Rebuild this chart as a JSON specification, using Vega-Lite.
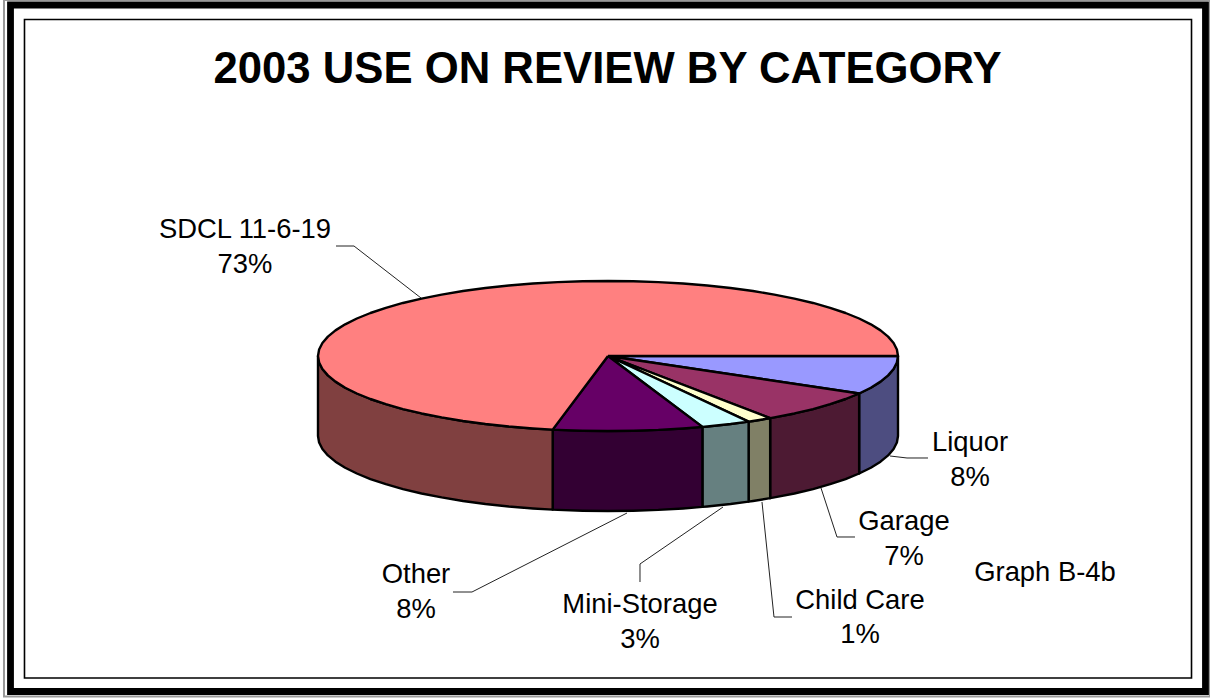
{
  "$schema": "https://vega.github.io/schema/vega-lite/v6.json",
  "width": 1210,
  "height": 698,
  "padding": 0,
  "autosize": {"type": "none"},
  "background": "white",
  "view": {"stroke": null},
  "title": {
    "text": "2003 USE ON REVIEW BY CATEGORY",
    "font": "Liberation Sans",
    "fontSize": 43.7,
    "fontWeight": "bold",
    "color": "black",
    "anchor": "middle",
    "frame": "group",
    "baseline": "alphabetic",
    "offset": 0,
    "dy": 128,
    "dx": 2.5
  },
  "datasets": {
    "sides": [
      {"part":"Liquor side","step":0,"x":100,"y":0},{"part":"Liquor side","step":1,"x":99.62,"y":-2.25},{"part":"Liquor side","step":2,"x":98.48,"y":-4.49},{"part":"Liquor side","step":3,"x":96.59,"y":-6.69},{"part":"Liquor side","step":4,"x":93.97,"y":-8.84},{"part":"Liquor side","step":5,"x":90.63,"y":-10.93},{"part":"Liquor side","step":6,"x":86.6,"y":-12.93},
      {"part":"Liquor side","step":7,"x":86.6,"y":-40.52},{"part":"Liquor side","step":8,"x":90.63,"y":-38.52},{"part":"Liquor side","step":9,"x":93.97,"y":-36.43},{"part":"Liquor side","step":10,"x":96.59,"y":-34.28},{"part":"Liquor side","step":11,"x":98.48,"y":-32.08},{"part":"Liquor side","step":12,"x":99.62,"y":-29.84},{"part":"Liquor side","step":13,"x":100,"y":-27.59},{"part":"Liquor side","step":14,"x":100,"y":0},

      {"part":"Garage side","step":0,"x":86.6,"y":-12.93},{"part":"Garage side","step":1,"x":81.92,"y":-14.83},{"part":"Garage side","step":2,"x":76.6,"y":-16.62},{"part":"Garage side","step":3,"x":70.71,"y":-18.29},{"part":"Garage side","step":4,"x":64.28,"y":-19.81},{"part":"Garage side","step":5,"x":57.36,"y":-21.18},{"part":"Garage side","step":6,"x":55.92,"y":-21.44},
      {"part":"Garage side","step":7,"x":55.92,"y":-49.03},{"part":"Garage side","step":8,"x":57.36,"y":-48.77},{"part":"Garage side","step":9,"x":64.28,"y":-47.4},{"part":"Garage side","step":10,"x":70.71,"y":-45.88},{"part":"Garage side","step":11,"x":76.6,"y":-44.21},{"part":"Garage side","step":12,"x":81.92,"y":-42.42},{"part":"Garage side","step":13,"x":86.6,"y":-40.52},{"part":"Garage side","step":14,"x":86.6,"y":-12.93},

      {"part":"Child Care side","step":0,"x":55.92,"y":-21.44},{"part":"Child Care side","step":1,"x":50,"y":-22.4},{"part":"Child Care side","step":2,"x":48.48,"y":-22.62},{"part":"Child Care side","step":3,"x":48.48,"y":-50.21},{"part":"Child Care side","step":4,"x":50,"y":-49.99},{"part":"Child Care side","step":5,"x":55.92,"y":-49.03},{"part":"Child Care side","step":6,"x":55.92,"y":-21.44},

      {"part":"Mini-Storage side","step":0,"x":48.48,"y":-22.62},{"part":"Mini-Storage side","step":1,"x":42.26,"y":-23.44},{"part":"Mini-Storage side","step":2,"x":34.2,"y":-24.3},{"part":"Mini-Storage side","step":3,"x":32.56,"y":-24.45},{"part":"Mini-Storage side","step":4,"x":32.56,"y":-52.04},{"part":"Mini-Storage side","step":5,"x":34.2,"y":-51.89},{"part":"Mini-Storage side","step":6,"x":42.26,"y":-51.03},{"part":"Mini-Storage side","step":7,"x":48.48,"y":-50.21},{"part":"Mini-Storage side","step":8,"x":48.48,"y":-22.62},

      {"part":"Other side","step":0,"x":32.56,"y":-24.45},{"part":"Other side","step":1,"x":25.88,"y":-24.98},{"part":"Other side","step":2,"x":17.36,"y":-25.47},{"part":"Other side","step":3,"x":8.72,"y":-25.76},{"part":"Other side","step":4,"x":0,"y":-25.86},{"part":"Other side","step":5,"x":-8.72,"y":-25.76},{"part":"Other side","step":6,"x":-17.36,"y":-25.47},{"part":"Other side","step":7,"x":-19.08,"y":-25.39},
      {"part":"Other side","step":8,"x":-19.08,"y":-52.98},{"part":"Other side","step":9,"x":-17.36,"y":-53.06},{"part":"Other side","step":10,"x":-8.72,"y":-53.35},{"part":"Other side","step":11,"x":0,"y":-53.45},{"part":"Other side","step":12,"x":8.72,"y":-53.35},{"part":"Other side","step":13,"x":17.36,"y":-53.06},{"part":"Other side","step":14,"x":25.88,"y":-52.57},{"part":"Other side","step":15,"x":32.56,"y":-52.04},{"part":"Other side","step":16,"x":32.56,"y":-24.45},

      {"part":"SDCL side","step":0,"x":-19.08,"y":-25.39},{"part":"SDCL side","step":1,"x":-25.88,"y":-24.98},{"part":"SDCL side","step":2,"x":-34.2,"y":-24.3},{"part":"SDCL side","step":3,"x":-42.26,"y":-23.44},{"part":"SDCL side","step":4,"x":-50,"y":-22.4},{"part":"SDCL side","step":5,"x":-57.36,"y":-21.18},{"part":"SDCL side","step":6,"x":-64.28,"y":-19.81},{"part":"SDCL side","step":7,"x":-70.71,"y":-18.29},{"part":"SDCL side","step":8,"x":-76.6,"y":-16.62},{"part":"SDCL side","step":9,"x":-81.92,"y":-14.83},{"part":"SDCL side","step":10,"x":-86.6,"y":-12.93},{"part":"SDCL side","step":11,"x":-90.63,"y":-10.93},{"part":"SDCL side","step":12,"x":-93.97,"y":-8.84},{"part":"SDCL side","step":13,"x":-96.59,"y":-6.69},{"part":"SDCL side","step":14,"x":-98.48,"y":-4.49},{"part":"SDCL side","step":15,"x":-99.62,"y":-2.25},{"part":"SDCL side","step":16,"x":-100,"y":0},
      {"part":"SDCL side","step":17,"x":-100,"y":-27.59},{"part":"SDCL side","step":18,"x":-99.62,"y":-29.84},{"part":"SDCL side","step":19,"x":-98.48,"y":-32.08},{"part":"SDCL side","step":20,"x":-96.59,"y":-34.28},{"part":"SDCL side","step":21,"x":-93.97,"y":-36.43},{"part":"SDCL side","step":22,"x":-90.63,"y":-38.52},{"part":"SDCL side","step":23,"x":-86.6,"y":-40.52},{"part":"SDCL side","step":24,"x":-81.92,"y":-42.42},{"part":"SDCL side","step":25,"x":-76.6,"y":-44.21},{"part":"SDCL side","step":26,"x":-70.71,"y":-45.88},{"part":"SDCL side","step":27,"x":-64.28,"y":-47.4},{"part":"SDCL side","step":28,"x":-57.36,"y":-48.77},{"part":"SDCL side","step":29,"x":-50,"y":-49.99},{"part":"SDCL side","step":30,"x":-42.26,"y":-51.03},{"part":"SDCL side","step":31,"x":-34.2,"y":-51.89},{"part":"SDCL side","step":32,"x":-25.88,"y":-52.57},{"part":"SDCL side","step":33,"x":-19.08,"y":-52.98},{"part":"SDCL side","step":34,"x":-19.08,"y":-25.39}
    ],
    "tops": [
      {"part":"Liquor top","step":0,"x":0,"y":0},{"part":"Liquor top","step":1,"x":100,"y":0},{"part":"Liquor top","step":2,"x":99.62,"y":-2.25},{"part":"Liquor top","step":3,"x":98.48,"y":-4.49},{"part":"Liquor top","step":4,"x":96.59,"y":-6.69},{"part":"Liquor top","step":5,"x":93.97,"y":-8.84},{"part":"Liquor top","step":6,"x":90.63,"y":-10.93},{"part":"Liquor top","step":7,"x":86.6,"y":-12.93},{"part":"Liquor top","step":8,"x":0,"y":0},

      {"part":"Garage top","step":0,"x":0,"y":0},{"part":"Garage top","step":1,"x":86.6,"y":-12.93},{"part":"Garage top","step":2,"x":81.92,"y":-14.83},{"part":"Garage top","step":3,"x":76.6,"y":-16.62},{"part":"Garage top","step":4,"x":70.71,"y":-18.29},{"part":"Garage top","step":5,"x":64.28,"y":-19.81},{"part":"Garage top","step":6,"x":57.36,"y":-21.18},{"part":"Garage top","step":7,"x":55.92,"y":-21.44},{"part":"Garage top","step":8,"x":0,"y":0},

      {"part":"Child Care top","step":0,"x":0,"y":0},{"part":"Child Care top","step":1,"x":55.92,"y":-21.44},{"part":"Child Care top","step":2,"x":50,"y":-22.4},{"part":"Child Care top","step":3,"x":48.48,"y":-22.62},{"part":"Child Care top","step":4,"x":0,"y":0},

      {"part":"Mini-Storage top","step":0,"x":0,"y":0},{"part":"Mini-Storage top","step":1,"x":48.48,"y":-22.62},{"part":"Mini-Storage top","step":2,"x":42.26,"y":-23.44},{"part":"Mini-Storage top","step":3,"x":34.2,"y":-24.3},{"part":"Mini-Storage top","step":4,"x":32.56,"y":-24.45},{"part":"Mini-Storage top","step":5,"x":0,"y":0},

      {"part":"Other top","step":0,"x":0,"y":0},{"part":"Other top","step":1,"x":32.56,"y":-24.45},{"part":"Other top","step":2,"x":25.88,"y":-24.98},{"part":"Other top","step":3,"x":17.36,"y":-25.47},{"part":"Other top","step":4,"x":8.72,"y":-25.76},{"part":"Other top","step":5,"x":0,"y":-25.86},{"part":"Other top","step":6,"x":-8.72,"y":-25.76},{"part":"Other top","step":7,"x":-17.36,"y":-25.47},{"part":"Other top","step":8,"x":-19.08,"y":-25.39},{"part":"Other top","step":9,"x":0,"y":0},

      {"part":"SDCL top","step":0,"x":0,"y":0},{"part":"SDCL top","step":1,"x":-19.08,"y":-25.39},{"part":"SDCL top","step":2,"x":-25.88,"y":-24.98},{"part":"SDCL top","step":3,"x":-34.2,"y":-24.3},{"part":"SDCL top","step":4,"x":-42.26,"y":-23.44},{"part":"SDCL top","step":5,"x":-50,"y":-22.4},{"part":"SDCL top","step":6,"x":-57.36,"y":-21.18},{"part":"SDCL top","step":7,"x":-64.28,"y":-19.81},{"part":"SDCL top","step":8,"x":-70.71,"y":-18.29},{"part":"SDCL top","step":9,"x":-76.6,"y":-16.62},{"part":"SDCL top","step":10,"x":-81.92,"y":-14.83},{"part":"SDCL top","step":11,"x":-86.6,"y":-12.93},{"part":"SDCL top","step":12,"x":-90.63,"y":-10.93},{"part":"SDCL top","step":13,"x":-93.97,"y":-8.84},{"part":"SDCL top","step":14,"x":-96.59,"y":-6.69},{"part":"SDCL top","step":15,"x":-98.48,"y":-4.49},{"part":"SDCL top","step":16,"x":-99.62,"y":-2.25},{"part":"SDCL top","step":17,"x":-100,"y":0},
      {"part":"SDCL top","step":18,"x":-99.62,"y":2.25},{"part":"SDCL top","step":19,"x":-98.48,"y":4.49},{"part":"SDCL top","step":20,"x":-96.59,"y":6.69},{"part":"SDCL top","step":21,"x":-93.97,"y":8.84},{"part":"SDCL top","step":22,"x":-90.63,"y":10.93},{"part":"SDCL top","step":23,"x":-86.6,"y":12.93},{"part":"SDCL top","step":24,"x":-81.92,"y":14.83},{"part":"SDCL top","step":25,"x":-76.6,"y":16.62},{"part":"SDCL top","step":26,"x":-70.71,"y":18.29},{"part":"SDCL top","step":27,"x":-64.28,"y":19.81},{"part":"SDCL top","step":28,"x":-57.36,"y":21.18},{"part":"SDCL top","step":29,"x":-50,"y":22.4},{"part":"SDCL top","step":30,"x":-42.26,"y":23.44},{"part":"SDCL top","step":31,"x":-34.2,"y":24.3},{"part":"SDCL top","step":32,"x":-25.88,"y":24.98},{"part":"SDCL top","step":33,"x":-17.36,"y":25.47},{"part":"SDCL top","step":34,"x":-8.72,"y":25.76},{"part":"SDCL top","step":35,"x":0,"y":25.86},
      {"part":"SDCL top","step":36,"x":8.72,"y":25.76},{"part":"SDCL top","step":37,"x":17.36,"y":25.47},{"part":"SDCL top","step":38,"x":25.88,"y":24.98},{"part":"SDCL top","step":39,"x":34.2,"y":24.3},{"part":"SDCL top","step":40,"x":42.26,"y":23.44},{"part":"SDCL top","step":41,"x":50,"y":22.4},{"part":"SDCL top","step":42,"x":57.36,"y":21.18},{"part":"SDCL top","step":43,"x":64.28,"y":19.81},{"part":"SDCL top","step":44,"x":70.71,"y":18.29},{"part":"SDCL top","step":45,"x":76.6,"y":16.62},{"part":"SDCL top","step":46,"x":81.92,"y":14.83},{"part":"SDCL top","step":47,"x":86.6,"y":12.93},{"part":"SDCL top","step":48,"x":90.63,"y":10.93},{"part":"SDCL top","step":49,"x":93.97,"y":8.84},{"part":"SDCL top","step":50,"x":96.59,"y":6.69},{"part":"SDCL top","step":51,"x":98.48,"y":4.49},{"part":"SDCL top","step":52,"x":99.62,"y":2.25},{"part":"SDCL top","step":53,"x":100,"y":0},{"part":"SDCL top","step":54,"x":0,"y":0}
    ],
    "leaders": [
      {"slice":"SDCL 11-6-19","step":0,"x":-93.79,"y":37.93},{"slice":"SDCL 11-6-19","step":1,"x":-87.59,"y":37.93},{"slice":"SDCL 11-6-19","step":2,"x":-64.48,"y":20},
      {"slice":"Liquor","step":0,"x":97.24,"y":-34.48},{"slice":"Liquor","step":1,"x":103.1,"y":-35.17},{"slice":"Liquor","step":2,"x":110.34,"y":-35.17},
      {"slice":"Garage","step":0,"x":73.45,"y":-45.52},{"slice":"Garage","step":1,"x":78.97,"y":-62.41},{"slice":"Garage","step":2,"x":85.17,"y":-62.41},
      {"slice":"Child Care","step":0,"x":53.1,"y":-50.34},{"slice":"Child Care","step":1,"x":57.24,"y":-90},{"slice":"Child Care","step":2,"x":63.45,"y":-90},
      {"slice":"Mini-Storage","step":0,"x":39.66,"y":-52.07},{"slice":"Mini-Storage","step":1,"x":11.03,"y":-71.72},{"slice":"Mini-Storage","step":2,"x":11.03,"y":-77.93},
      {"slice":"Other","step":0,"x":6.55,"y":-54.14},{"slice":"Other","step":1,"x":-46.9,"y":-81.38},{"slice":"Other","step":2,"x":-53.45,"y":-81.38}
    ],
    "labels": [
      {"label":"SDCL 11-6-19\n73%","x":-125.17,"y":40.69},
      {"label":"Liquor\n8%","x":124.83,"y":-32.76},
      {"label":"Garage\n7%","x":102.07,"y":-60},
      {"label":"Child Care\n1%","x":86.9,"y":-87.24},
      {"label":"Mini-Storage\n3%","x":11.03,"y":-88.62},
      {"label":"Other\n8%","x":-66.21,"y":-78.28},
      {"label":"Graph B-4b","x":150.69,"y":-77.59}
    ],
    "seamsAcross": [
      {"x":-188.72},{"x":-172.33},{"x":-155.93},{"x":-139.53},{"x":-123.13},{"x":-106.74},{"x":-90.34},{"x":-73.94},{"x":-57.55},{"x":-41.15},{"x":-24.75},{"x":-8.36},{"x":8.04},{"x":24.44},{"x":40.84},{"x":57.23},{"x":73.63},{"x":90.03},{"x":106.42},{"x":122.82},{"x":139.22},{"x":155.62},{"x":172.01},{"x":188.41}
    ],
    "seamsDown": [
      {"y":98.97},{"y":77.69},{"y":56.42},{"y":35.14},{"y":13.86},{"y":-7.41},{"y":-28.69},{"y":-49.96},{"y":-71.24},{"y":-92.52},{"y":-113.79}
    ]
  },
  "encoding": {
    "x": {"field": "x", "type": "quantitative", "axis": null, "scale": {"domain": [-209.655, 207.586], "nice": false, "zero": false}},
    "y": {"field": "y", "type": "quantitative", "axis": null, "scale": {"domain": [-117.93, 122.76], "nice": false, "zero": false}}
  },
  "layer": [
    {
      "data": {"values": [{"x": -208.28, "x2": 207.59, "y": 122.76, "y2": -117.41}]},
      "mark": {"type": "rect", "fill": null, "stroke": "#999999", "strokeWidth": 2},
      "encoding": {"x2": {"field": "x2"}, "y2": {"field": "y2"}}
    },
    {
      "data": {"values": [{"x": -206.03, "x2": 206.03, "y": 121.03, "y2": -115.69}]},
      "mark": {"type": "rect", "fill": null, "stroke": "black", "strokeWidth": 6.8},
      "encoding": {"x2": {"field": "x2"}, "y2": {"field": "y2"}}
    },
    {
      "data": {"values": [{"x": -201.21, "x2": 201.21, "y": 116.03, "y2": -111.03}]},
      "mark": {"type": "rect", "fill": null, "stroke": "black", "strokeWidth": 1.6},
      "encoding": {"x2": {"field": "x2"}, "y2": {"field": "y2"}}
    },
    {
      "data": {"name": "seamsAcross"},
      "mark": {"type": "rule", "stroke": "#666666", "strokeWidth": 1},
      "encoding": {"y": {"datum": 122.07}, "y2": {"datum": 120}}
    },
    {
      "data": {"name": "seamsAcross"},
      "mark": {"type": "rule", "stroke": "#666666", "strokeWidth": 1},
      "encoding": {"y": {"datum": -114.48}, "y2": {"datum": -116.9}}
    },
    {
      "data": {"name": "seamsDown"},
      "mark": {"type": "rule", "stroke": "#666666", "strokeWidth": 1},
      "encoding": {"x": {"datum": -207.24}, "x2": {"datum": -204.83}}
    },
    {
      "data": {"name": "seamsDown"},
      "mark": {"type": "rule", "stroke": "#666666", "strokeWidth": 1},
      "encoding": {"x": {"datum": 204.83}, "x2": {"datum": 207.24}}
    },
    {
      "data": {"name": "leaders"},
      "mark": {"type": "line", "stroke": "#222222", "strokeWidth": 1},
      "encoding": {"detail": {"field": "slice"}, "order": {"field": "step", "type": "quantitative"}}
    },
    {
      "data": {"name": "sides"},
      "mark": {"type": "line", "stroke": "black", "strokeWidth": 2.4, "strokeJoin": "round"},
      "encoding": {
        "fill": {
          "field": "part", "type": "nominal", "legend": null,
          "scale": {
            "domain": ["Liquor side", "Garage side", "Child Care side", "Mini-Storage side", "Other side", "SDCL side", "Liquor top", "Garage top", "Child Care top", "Mini-Storage top", "Other top", "SDCL top"],
            "range": ["#4D4D80", "#4D1A33", "#808066", "#668080", "#330033", "#804040", "#9999FF", "#993366", "#FFFFCC", "#CCFFFF", "#660066", "#FF8080"]
          }
        },
        "order": {"field": "step", "type": "quantitative"}
      }
    },
    {
      "data": {"name": "tops"},
      "mark": {"type": "line", "stroke": "black", "strokeWidth": 2.4, "strokeJoin": "round"},
      "encoding": {
        "fill": {
          "field": "part", "type": "nominal", "legend": null,
          "scale": {
            "domain": ["Liquor side", "Garage side", "Child Care side", "Mini-Storage side", "Other side", "SDCL side", "Liquor top", "Garage top", "Child Care top", "Mini-Storage top", "Other top", "SDCL top"],
            "range": ["#4D4D80", "#4D1A33", "#808066", "#668080", "#330033", "#804040", "#9999FF", "#993366", "#FFFFCC", "#CCFFFF", "#660066", "#FF8080"]
          }
        },
        "order": {"field": "step", "type": "quantitative"}
      }
    },
    {
      "data": {"name": "labels"},
      "mark": {"type": "text", "font": "Liberation Sans", "fontSize": 27.4, "lineHeight": 34.5, "lineBreak": "\n", "align": "center", "baseline": "alphabetic", "color": "black"},
      "encoding": {"text": {"field": "label", "type": "nominal"}}
    }
  ]
}
